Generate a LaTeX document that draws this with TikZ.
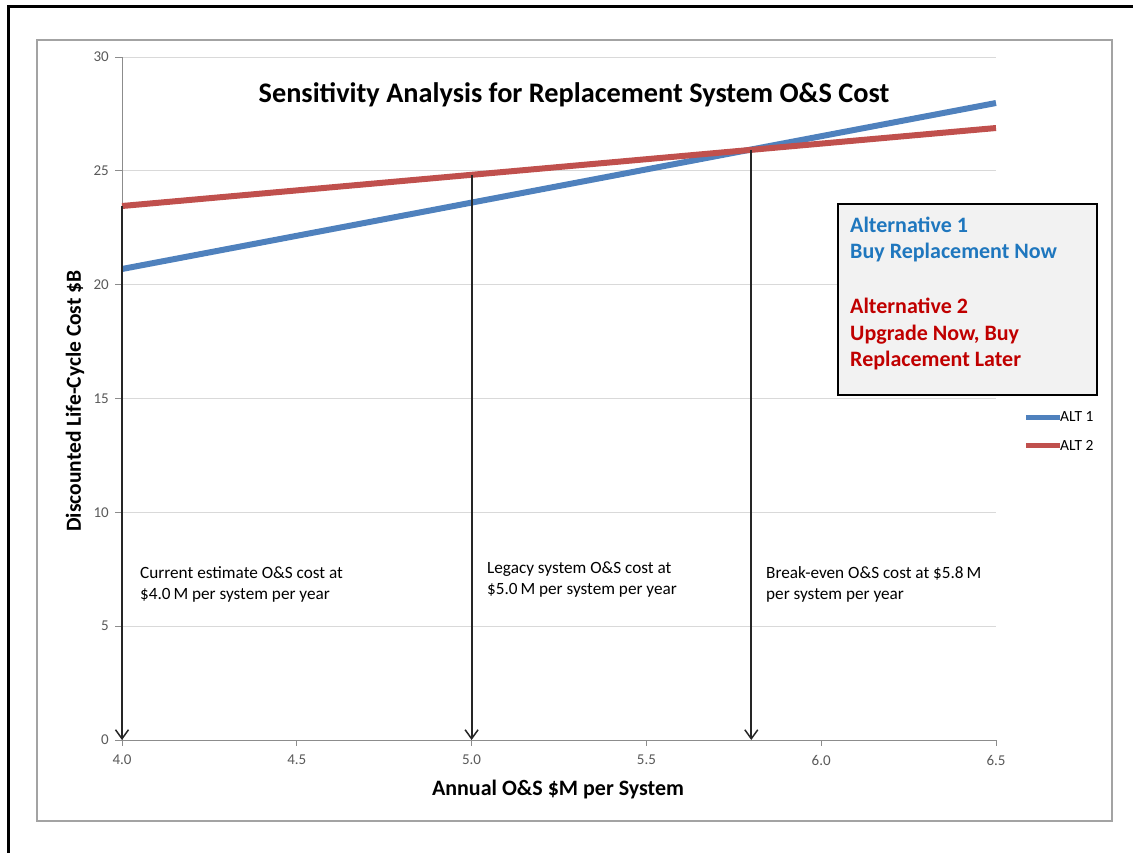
\documentclass[tikz,border=0pt]{standalone}
\usepackage{fontspec}
\setmainfont{Carlito}
\usetikzlibrary{arrows.meta}
\definecolor{altblue}{HTML}{4F81BD}
\definecolor{altred}{HTML}{C0504D}
\definecolor{txtblue}{HTML}{1F77BE}
\definecolor{txtred}{HTML}{C00000}
\definecolor{gridc}{HTML}{D9D9D9}
\definecolor{axisc}{HTML}{8C8C8C}
\definecolor{tickc}{HTML}{595959}
\definecolor{boxfill}{HTML}{F2F2F2}
\tikzset{
  gridline/.style={draw=gridc, line width=1pt},
  axisline/.style={draw=axisc, line width=1pt},
  dataline/.style={line width=6pt},
  droparrow/.style={draw=black!85, line width=2pt, -{Straight Barb[length=9pt,width=13pt,line width=1.5pt]}},
  ticklabel/.style={text=tickc, font=\fontsize{15}{17}\selectfont, inner sep=0pt},
  annot/.style={font=\fontsize{17.2}{21}\selectfont, align=left, anchor=north west, inner sep=0pt},
  legtext/.style={font=\fontsize{22}{26.5}\selectfont\bfseries, align=left, anchor=north west, inner sep=0pt},
}
\begin{document}
\begin{tikzpicture}[x=1pt,y=-1pt]
\useasboundingbox (0,0) rectangle (1133,852);
% outer frame (left and top visible)
\draw[line width=3pt] (8,860) -- (8,6) -- (1140,6);
% chart area frame
\draw[draw=axisc!80, line width=1.5pt] (37,40) rectangle (1112,821);
% gridlines
\foreach \v/\yy in {5/626.2,10/512.3,15/398.5,20/284.6,25/170.8,30/57}{
  \draw[gridline] (122,\yy) -- (996,\yy);
  \draw[axisline] (115,\yy) -- (122,\yy);
  \node[ticklabel, anchor=east] (yl\v) at (109,\yy) {\v};
}
\draw[axisline] (122,740) -- (996,740);
\draw[axisline] (115,740) -- (122,740);
\node[ticklabel, anchor=east] (yl0) at (109,740) {0};
\draw[axisline] (122,57) -- (122,740);
\foreach \lab/\xx in {4.0/122,4.5/296.8,5.0/471.6,5.5/646.4,6.0/821.2,6.5/996}{
  \draw[axisline] (\xx,740) -- (\xx,746);
  \node[ticklabel] (xl\xx) at (\xx,760) {\lab};
}
% data lines
\draw[dataline, altblue] (122,269) coordinate (a1s) -- (996,103) coordinate (a1e);
\draw[dataline, altred] (122,206) coordinate (a2s) -- (996,128) coordinate (a2e);
% drop arrows
\coordinate (p40) at (122,206);
\coordinate (p50) at (471.6,174.8);
\coordinate (p58) at (751.3,150);
\coordinate (b40) at (122,740);
\coordinate (b50) at (471.6,740);
\coordinate (b58) at (751.3,740);
\draw[droparrow] (p40) -- (b40);
\draw[droparrow] (p50) -- (b50);
\draw[droparrow] (p58) -- (b58);
% annotations
\node[annot] (n40) at (140,566) {Current estimate O\&S cost at\\\$4.0\,M per system per year};
\node[annot] (n50) at (487,562) {Legacy system O\&S cost at\\\$5.0\,M per system per year};
\node[annot] (n58) at (766,566) {Break-even O\&S cost at \$5.8\,M\\per system per year};
% title
\node[font=\fontsize{28.3}{32}\selectfont\bfseries, inner sep=0pt] (title) at (574,95) {Sensitivity Analysis for Replacement System O\&S Cost};
% legend box
\draw[draw=black, line width=1.3pt, fill=boxfill] (838,204) rectangle (1097,395);
\node[legtext, text=txtblue] (alt1) at (850,216.5) {Alternative 1\\Buy Replacement Now};
\node[legtext, text=txtred] (alt2) at (850,298) {Alternative 2\\Upgrade Now, Buy\\Replacement Later};
% series legend
\draw[dataline, altblue, line width=5pt] (1026,417) coordinate (lb1) -- (1060,417) coordinate (lb2);
\node[font=\fontsize{15.5}{17}\selectfont, anchor=west, inner sep=0pt] (lt1) at (1060,417) {ALT 1};
\draw[dataline, altred, line width=5pt] (1026,445) coordinate (lr1) -- (1060,445) coordinate (lr2);
\node[font=\fontsize{15.5}{17}\selectfont, anchor=west, inner sep=0pt] (lt2) at (1060,445) {ALT 2};
% axis titles
\node[font=\fontsize{21.5}{24}\selectfont\bfseries, rotate=90, inner sep=0pt] (ytitle) at (75,401) {Discounted Life-Cycle Cost \$B};
\node[font=\fontsize{22}{24}\selectfont\bfseries, inner sep=0pt] (xtitle) at (558,789) {Annual O\&S \$M per System};
\end{tikzpicture}
\end{document}
